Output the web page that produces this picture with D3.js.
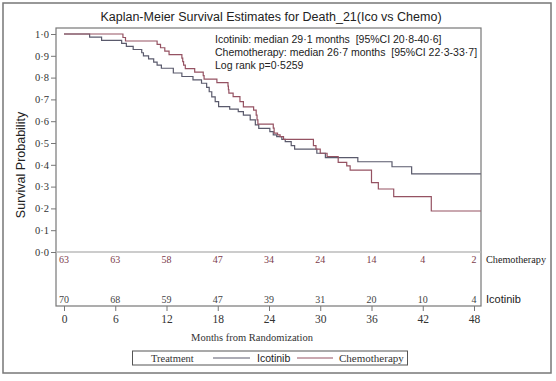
<!DOCTYPE html>
<html>
<head>
<meta charset="utf-8">
<script src="https://cdn.jsdelivr.net/npm/d3@7"></script>
<style>
  body { margin: 0; background: #fff; }
  svg { display: block; }
</style>
</head>
<body>
<div id="chart"></div>
<script>
// --- data ---
const months = [0, 6, 12, 18, 24, 30, 36, 42, 48];
const yTicks = [0, 0.1, 0.2, 0.3, 0.4, 0.5, 0.6, 0.7, 0.8, 0.9, 1.0];

// Icotinib KM steps (time in months, survival)
const icoTimes = [0, 3.0, 4.4, 6.75, 7.3, 8.1, 9.1, 9.3, 9.9, 10.5, 10.9, 11.4, 12.8, 13.8, 15.1, 16.1, 16.7, 17.0, 17.3, 17.7, 18.1, 19.4, 20.4, 21.0, 21.8, 22.4, 22.8, 24.1, 24.5, 24.9, 25.5, 25.9, 26.6, 27.0, 29.6, 30.6, 34.4, 38.4, 40.7, 48.8];
const icoSurv = [1.0, 0.986, 0.971, 0.957, 0.943, 0.929, 0.914, 0.900, 0.886, 0.871, 0.857, 0.843, 0.821, 0.805, 0.790, 0.774, 0.755, 0.735, 0.712, 0.690, 0.667, 0.655, 0.644, 0.628, 0.606, 0.583, 0.567, 0.552, 0.537, 0.529, 0.517, 0.506, 0.488, 0.472, 0.453, 0.433, 0.414, 0.391, 0.358, 0.358];

// Chemotherapy KM steps
const chemoTimes = [0, 6.9, 7.2, 10.9, 11.3, 11.8, 12.3, 13.8, 13.9, 14.0, 14.2, 15.3, 16.3, 16.4, 17.9, 19.2, 19.25, 19.3, 19.8, 20.6, 21.0, 22.2, 22.5, 22.6, 22.7, 24.5, 24.6, 25.0, 25.3, 25.7, 29.2, 29.5, 30.0, 30.8, 32.1, 33.1, 33.5, 36.0, 36.8, 38.6, 43.0, 48.8];
const chemoSurv = [1.0, 0.984, 0.968, 0.952, 0.937, 0.921, 0.905, 0.889, 0.873, 0.857, 0.841, 0.825, 0.809, 0.793, 0.777, 0.761, 0.745, 0.729, 0.713, 0.690, 0.666, 0.651, 0.628, 0.606, 0.587, 0.568, 0.545, 0.537, 0.529, 0.517, 0.488, 0.472, 0.453, 0.438, 0.411, 0.395, 0.376, 0.318, 0.289, 0.254, 0.188, 0.188];

// numbers at risk at each tick
const chemoAtRisk = [63, 63, 58, 47, 34, 24, 14, 4, 2];
const icoAtRisk = [70, 68, 59, 47, 39, 31, 20, 10, 4];

const icoColor = "#5a5a6c";
const chemoColor = "#955262";

const width = 556, height = 381;
const frame = { left: 56, right: 481, top: 28, bottom: 306 };

const svg = d3.select("#chart")
    .append("svg")
    .attr("width", width)
    .attr("height", height);

// outer border
svg.append("rect")
    .attr("x", 3).attr("y", 3)
    .attr("width", 548).attr("height", 370)
    .attr("fill", "none")
    .attr("stroke", "#777")
    .attr("stroke-width", 1.5);

const xScale = d3.scaleLinear().domain([0, 48]).range([64, 474]);
const yScale = d3.scaleLinear().domain([0, 1]).range([252, 34]);

const serif = "'Liberation Serif', 'Times New Roman', serif";
const sans = "'Liberation Sans', Arial, sans-serif";
const fmt = d => d3.format(".1f")(d).replace(".", "·");

// title
svg.append("text")
    .attr("x", 271)
    .attr("y", 21)
    .attr("text-anchor", "middle")
    .style("font-family", sans)
    .style("font-size", "12.5px")
    .style("fill", "#222")
    .text("Kaplan-Meier Survival Estimates for Death_21(Ico vs Chemo)");

// plot frame
svg.append("rect")
    .attr("x", frame.left).attr("y", frame.top)
    .attr("width", frame.right - frame.left)
    .attr("height", frame.bottom - frame.top)
    .attr("fill", "none")
    .attr("stroke", "#777")
    .attr("stroke-width", 1.2);

// zero reference line
svg.append("line")
    .attr("x1", frame.left).attr("x2", frame.right)
    .attr("y1", yScale(0)).attr("y2", yScale(0))
    .attr("stroke", "#bbb")
    .attr("stroke-width", 1.5);

// y axis
const yAxis = svg.append("g")
    .attr("transform", `translate(${frame.left},0)`)
    .call(d3.axisLeft(yScale).tickValues(yTicks).tickSize(5).tickFormat(fmt));
yAxis.select(".domain").remove();
yAxis.selectAll("line").attr("stroke", "#777");
yAxis.selectAll("text")
    .attr("x", -7)
    .style("font-family", serif)
    .style("font-size", "10.5px")
    .style("fill", "#333");

// x axis
const xAxis = svg.append("g")
    .attr("transform", `translate(0,${frame.bottom})`)
    .call(d3.axisBottom(xScale).tickValues(months).tickSize(5).tickFormat(d3.format("d")));
xAxis.select(".domain").remove();
xAxis.selectAll("line").attr("stroke", "#777");
xAxis.selectAll("text")
    .attr("y", 9)
    .style("font-family", serif)
    .style("font-size", "11.5px")
    .style("fill", "#333");

svg.append("text")
    .attr("x", 252)
    .attr("y", 341)
    .attr("text-anchor", "middle")
    .style("font-family", serif)
    .style("font-size", "10.5px")
    .style("fill", "#333")
    .text("Months from Randomization");

svg.append("text")
    .attr("transform", "rotate(-90)")
    .attr("x", -165)
    .attr("y", 25)
    .attr("text-anchor", "middle")
    .style("font-family", sans)
    .style("font-size", "12.5px")
    .style("fill", "#222")
    .text("Survival Probability");

// KM step curves
const line = d3.line()
    .x(d => xScale(d[0]))
    .y(d => yScale(d[1]))
    .curve(d3.curveStepAfter);

const series = [
    { times: icoTimes, surv: icoSurv, color: icoColor },
    { times: chemoTimes, surv: chemoSurv, color: chemoColor }
];

series.forEach(s => {
    svg.append("path")
        .datum(s.times.map((t, i) => [t, s.surv[i]]))
        .attr("d", line)
        .attr("fill", "none")
        .attr("stroke", s.color)
        .attr("stroke-width", 1.2);
});

// stats text (keep the double spaces)
const notes = [
    "Icotinib: median 29·1 months  [95%CI 20·8-40·6]",
    "Chemotherapy: median 26·7 months  [95%CI 22·3-33·7]",
    "Log rank p=0·5259"
];
svg.selectAll(".note")
    .data(notes)
    .enter()
    .append("text")
    .attr("class", "note")
    .attr("x", 215)
    .attr("y", (d, i) => 43 + i * 13)
    .style("font-family", sans)
    .style("font-size", "10.5px")
    .style("white-space", "pre")
    .style("fill", "#222")
    .text(d => d);

// numbers at risk
svg.selectAll(".risk-chemo")
    .data(chemoAtRisk)
    .enter()
    .append("text")
    .attr("class", "risk-chemo")
    .attr("x", (d, i) => xScale(months[i]))
    .attr("y", 263)
    .attr("text-anchor", "middle")
    .style("font-family", serif)
    .style("font-size", "10px")
    .style("fill", "#7c3c4c")
    .text(d => d);

svg.selectAll(".risk-ico")
    .data(icoAtRisk)
    .enter()
    .append("text")
    .attr("class", "risk-ico")
    .attr("x", (d, i) => xScale(months[i]))
    .attr("y", 303)
    .attr("text-anchor", "middle")
    .style("font-family", serif)
    .style("font-size", "10px")
    .style("fill", "#444")
    .text(d => d);

svg.append("text")
    .attr("x", 486).attr("y", 263)
    .style("font-family", serif)
    .style("font-size", "10.2px")
    .style("fill", "#222")
    .text("Chemotherapy");

svg.append("text")
    .attr("x", 486).attr("y", 303)
    .style("font-family", sans)
    .style("font-size", "11px")
    .style("fill", "#222")
    .text("Icotinib");

// legend
const legend = svg.append("g");
legend.append("rect")
    .attr("x", 132.5).attr("y", 351)
    .attr("width", 275).attr("height", 14)
    .attr("fill", "none")
    .attr("stroke", "#555")
    .attr("stroke-width", 1);

legend.append("text")
    .attr("x", 151).attr("y", 361.5)
    .style("font-family", serif)
    .style("font-size", "10.5px")
    .style("fill", "#333")
    .text("Treatment");

legend.append("line")
    .attr("x1", 213).attr("x2", 250)
    .attr("y1", 358).attr("y2", 358)
    .attr("stroke", icoColor).attr("stroke-width", 1.2);
legend.append("text")
    .attr("x", 257).attr("y", 362)
    .style("font-family", sans)
    .style("font-size", "10.5px")
    .style("fill", "#222")
    .text("Icotinib");

legend.append("line")
    .attr("x1", 297).attr("x2", 333)
    .attr("y1", 358).attr("y2", 358)
    .attr("stroke", chemoColor).attr("stroke-width", 1.2);
legend.append("text")
    .attr("x", 339).attr("y", 362)
    .style("font-family", serif)
    .style("font-size", "11px")
    .style("fill", "#333")
    .text("Chemotherapy");
</script>
</body>
</html>
